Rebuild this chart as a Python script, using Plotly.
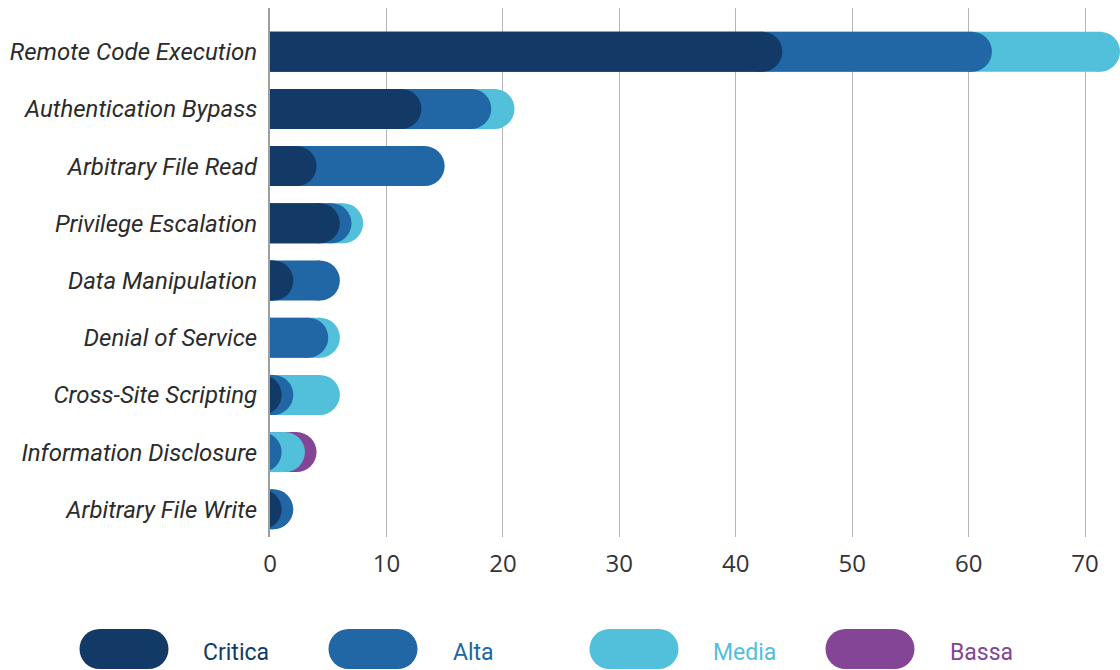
import plotly.graph_objects as go

# Vulnerability categories and counts per severity level
categories = [
    "Remote Code Execution",
    "Authentication Bypass",
    "Arbitrary File Read",
    "Privilege Escalation",
    "Data Manipulation",
    "Denial of Service",
    "Cross-Site Scripting",
    "Information Disclosure",
    "Arbitrary File Write",
]
critica = [44, 13, 4, 6, 2, 0, 1, 0, 1]
alta = [18, 6, 11, 1, 4, 5, 1, 1, 1]
media = [11, 2, 0, 1, 0, 1, 4, 2, 0]
bassa = [0, 0, 0, 0, 0, 0, 0, 1, 0]

series_names = ["Critica", "Alta", "Media", "Bassa"]
x_ticks = [0, 10, 20, 30, 40, 50, 60, 70]

colors = {
    "Critica": "#133a66",
    "Alta": "#2166a5",
    "Media": "#52c0db",
    "Bassa": "#844596",
}

# Figure geometry
W, H = 1120, 670
M_L, M_R, M_T, M_B = 270, 0, 8, 133
X_MAX = 73
BAR_PX = 40  # pill thickness in pixels
plot_w = W - M_L - M_R
r_data = (BAR_PX / 2) / (plot_w / X_MAX)  # cap radius in x units

values = {"Critica": critica, "Alta": alta, "Media": media, "Bassa": bassa}

# cumulative end of each severity within a row
cum = {}
running = [0] * len(categories)
for name in series_names:
    running = [a + b for a, b in zip(running, values[name])]
    cum[name] = list(running)

fig = go.Figure()

# Longest (cumulative) pill first, so shorter ones sit on top
for name in reversed(series_names):
    xs, ys, sizes = [], [], []
    for cat, v, end in zip(categories, values[name], cum[name]):
        if v <= 0:
            continue
        xs += [0, end - r_data, None]
        ys += [cat, cat, None]
        sizes += [0, BAR_PX, 0]
    fig.add_trace(
        go.Scatter(
            x=xs,
            y=ys,
            mode="lines+markers",
            line=dict(color=colors[name], width=BAR_PX),
            marker=dict(color=colors[name], size=sizes, opacity=1, line=dict(width=0)),
            name=name,
            showlegend=False,
            hoverinfo="skip",
            connectgaps=False,
        )
    )

# Custom pill legend below the chart (pixel offsets from plot origin)
legend_items = [
    ("Critica", 124, 203),
    ("Alta", 373, 453),
    ("Media", 634, 713),
    ("Bassa", 870, 950),
]
pill_cy = 537 - 649  # legend row centre relative to plot bottom (px, up positive)
pill_half_w, pill_r = 44.5, 20
shapes = []
for name, cx, tx in legend_items:
    ox = cx - M_L
    common = dict(
        xref="paper", yref="paper", xsizemode="pixel", ysizemode="pixel",
        xanchor=0, yanchor=0, fillcolor=colors[name], line=dict(width=0),
        layer="above",
    )
    shapes.append(dict(type="circle", x0=ox - pill_half_w, x1=ox - pill_half_w + 2 * pill_r,
                       y0=pill_cy - pill_r, y1=pill_cy + pill_r, **common))
    shapes.append(dict(type="circle", x0=ox + pill_half_w - 2 * pill_r, x1=ox + pill_half_w,
                       y0=pill_cy - pill_r, y1=pill_cy + pill_r, **common))
    shapes.append(dict(type="rect", x0=ox - pill_half_w + pill_r, x1=ox + pill_half_w - pill_r,
                       y0=pill_cy - pill_r, y1=pill_cy + pill_r, **common))
    fig.add_annotation(
        x=0, y=0, xref="paper", yref="paper",
        xshift=tx - M_L - 2, yshift=537 - 652,
        xanchor="left", yanchor="middle",
        text=name, showarrow=False,
        font=dict(family="Roboto", size=23, color=colors[name]),
    )

fig.update_layout(
    width=W,
    height=H,
    margin=dict(l=M_L, r=M_R, t=M_T, b=M_B, pad=0),
    paper_bgcolor="white",
    plot_bgcolor="white",
    shapes=shapes,
    xaxis=dict(
        range=[0, X_MAX],
        tickvals=x_ticks,
        showgrid=True,
        gridcolor="#b5b5b5",
        gridwidth=1,
        zeroline=False,
        showline=False,
        ticks="",
        ticklabelstandoff=10,
        tickfont=dict(family="Open Sans", size=24, color="#333333"),
        fixedrange=True,
    ),
    yaxis=dict(
        type="category",
        categoryorder="array",
        categoryarray=categories,
        range=[8.484, -0.764],
        showgrid=False,
        zeroline=False,
        showline=True,
        linecolor="#9e9e9e",
        linewidth=2,
        ticks="",
        ticklabelstandoff=6,
        tickfont=dict(family="Roboto", size=24, style="italic", color="#2b2b2b"),
        fixedrange=True,
    ),
)

fig.write_html("out.html")
